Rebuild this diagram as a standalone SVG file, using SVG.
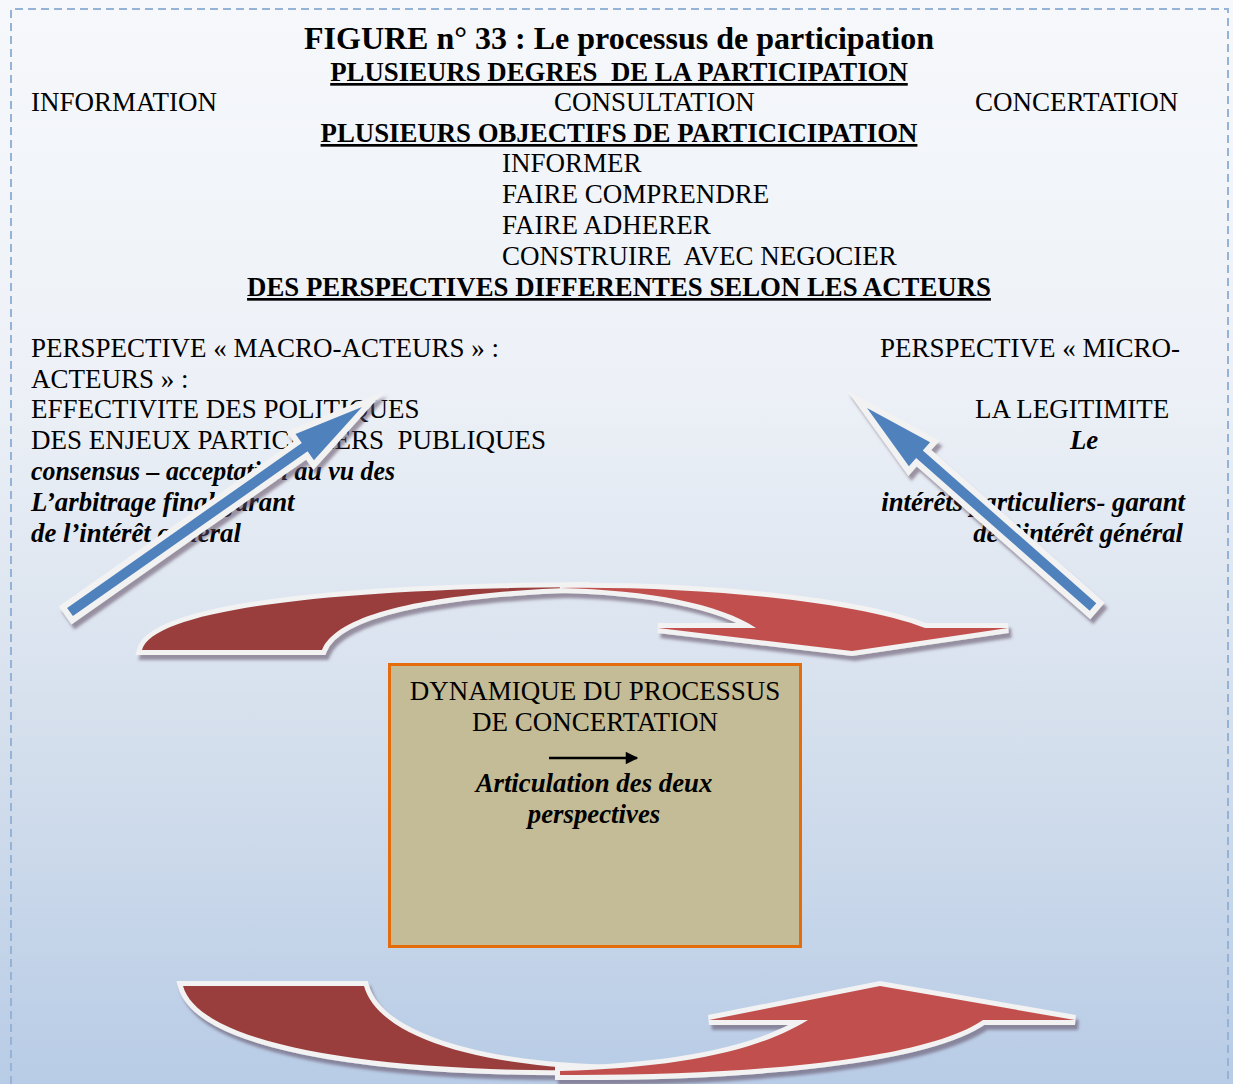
<svg xmlns="http://www.w3.org/2000/svg" width="1233" height="1084" viewBox="0 0 1233 1084">
  <defs>
    <linearGradient id="bg" x1="0" y1="0" x2="0" y2="1">
      <stop offset="0" stop-color="#f6f8fb"/>
      <stop offset="0.35" stop-color="#edf1f7"/>
      <stop offset="0.7" stop-color="#d3deec"/>
      <stop offset="1" stop-color="#b8cce6"/>
    </linearGradient>
    <filter id="shadow" x="-10%" y="-20%" width="120%" height="150%">
      <feDropShadow dx="3" dy="5" stdDeviation="1.5" flood-color="#5d4a5e" flood-opacity="0.55"/>
    </filter>
    <marker id="head" viewBox="0 0 10 10" refX="9" refY="5" markerWidth="6" markerHeight="5" orient="auto" markerUnits="strokeWidth">
      <path d="M0,0 L10,5 L0,10 Z" fill="#000"/>
    </marker>
    <style>
      text { font-family: "Liberation Serif", "Times New Roman", serif; fill: #000; white-space: pre; }
      .t { font-size: 27px; }
      .h { font-size: 26.8px; font-weight: bold; text-decoration: underline; }
      .bi { font-size: 26.8px; font-weight: bold; font-style: italic; }
      .mid { text-anchor: middle; }
      .end { text-anchor: end; }
      .dark { fill: #9a3e3c; stroke: #f2f2f2; stroke-width: 10; stroke-linejoin: miter; paint-order: stroke; }
      .light { fill: #c0504d; stroke: #f2f2f2; stroke-width: 10; stroke-linejoin: miter; paint-order: stroke; }
      .blue { fill: #4f81bd; stroke: #f2f2f2; stroke-width: 12; stroke-linejoin: miter; stroke-miterlimit: 10; paint-order: stroke; }
    </style>
  </defs>

  <!-- page background and dashed frame -->
  <rect x="0" y="0" width="1233" height="1084" fill="url(#bg)"/>
  <path d="M11,1084 V9 H1228 V1084" fill="none" stroke="#95b3d7" stroke-width="2" stroke-dasharray="8 5"/>

  <!-- heading block -->
  <g id="header">
    <text x="619" y="49" class="mid" font-size="32" font-weight="bold">FIGURE n° 33 : Le processus de participation</text>
    <text x="619" y="81" class="h mid">PLUSIEURS DEGRES  DE LA PARTICIPATION</text>
    <text x="31" y="111" class="t">INFORMATION</text>
    <text x="554" y="111" class="t">CONSULTATION</text>
    <text x="975" y="111" class="t">CONCERTATION</text>
    <text x="619" y="142" class="h mid">PLUSIEURS OBJECTIFS DE PARTICICIPATION</text>
    <text x="502" y="172" class="t">INFORMER</text>
    <text x="502" y="203" class="t">FAIRE COMPRENDRE</text>
    <text x="502" y="234" class="t">FAIRE ADHERER</text>
    <text x="502" y="265" class="t">CONSTRUIRE  AVEC NEGOCIER</text>
    <text x="619" y="296" class="h mid">DES PERSPECTIVES DIFFERENTES SELON LES ACTEURS</text>
  </g>

  <!-- macro-actor perspective -->
  <g id="macro">
    <text x="31" y="357" class="t">PERSPECTIVE « MACRO-ACTEURS » :</text>
    <text x="31" y="388" class="t">ACTEURS » :</text>
    <text x="31" y="418" class="t">EFFECTIVITE DES POLITIQUES</text>
    <text x="31" y="449" class="t">DES ENJEUX PARTICULIERS  PUBLIQUES</text>
    <text x="31" y="480" class="bi" textLength="364" lengthAdjust="spacingAndGlyphs">consensus – acceptation au vu des</text>
    <text x="31" y="511" class="bi">L’arbitrage final garant</text>
    <text x="31" y="542" class="bi">de l’intérêt général</text>
  </g>

  <!-- micro-actor perspective -->
  <g id="micro">
    <text x="880" y="357" class="t">PERSPECTIVE « MICRO-</text>
    <text x="975" y="418" class="t">LA LEGITIMITE</text>
    <text x="1070" y="449" class="bi">Le</text>
    <text x="1185" y="511" class="bi end">intérêts particuliers- garant</text>
    <text x="1183" y="542" class="bi end">de l’intérêt général</text>
  </g>

  <!-- central box -->
  <g id="dynamique">
    <rect x="389.5" y="664.5" width="411" height="282" fill="#c4bc96" stroke="#e46c0a" stroke-width="3"/>
    <text x="595" y="700" class="t mid">DYNAMIQUE DU PROCESSUS</text>
    <text x="595" y="731" class="t mid">DE CONCERTATION</text>
    <line x1="549" y1="758" x2="637" y2="758" stroke="#000" stroke-width="2.5" marker-end="url(#head)"/>
    <text x="594" y="792" class="bi mid">Articulation des deux</text>
    <text x="594" y="823" class="bi mid">perspectives</text>
  </g>

  <g id="connectors">
    <!-- top curved arrow, left to right -->
    <g filter="url(#shadow)">
      <path class="dark" d="M142,650 C153,610 330,588 590,587 C430,592 337,613 322,650 Z"/>
      <path class="light" d="M560,588 C700,586 860,602 925,628 L1008,628 L852,651 L658,628 L756,628 C720,604 650,590 560,588 Z"/>
    </g>
    <!-- bottom curved arrow, left to right -->
    <g filter="url(#shadow)">
      <path class="dark" d="M183,986 L364,986 C378,1035 470,1066 610,1070 C350,1074 198,1040 183,986 Z"/>
      <path class="light" d="M560,1075 C760,1076 928,1058 983,1020 L1075,1020 L880,986 L709,1020 L808,1020 C760,1050 680,1068 560,1071 Z"/>
    </g>
    <!-- straight arrows toward each perspective -->
    <polygon class="blue" filter="url(#shadow)" points="67.1,607.9 301.8,443.1 295.5,434.1 362,407 313.9,460.3 307.6,451.3 72.9,616.1"/>
    <polygon class="blue" filter="url(#shadow)" points="1089.7,610.8 916.2,458.1 908.9,466.3 867,408 930.1,442.3 922.8,450.5 1096.3,603.2"/>
  </g>
</svg>
